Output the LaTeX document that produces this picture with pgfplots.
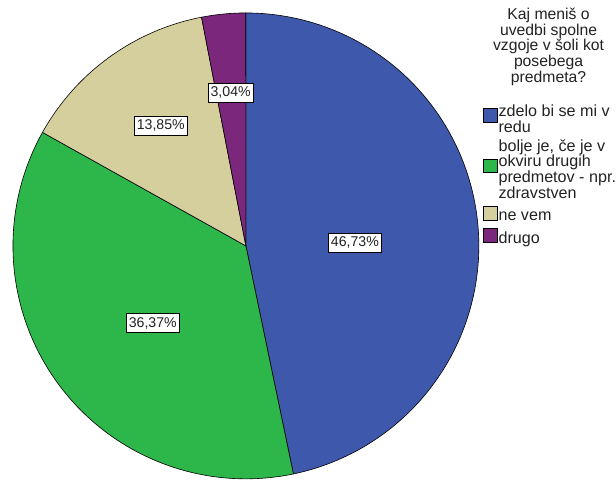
\documentclass[border=0pt]{standalone}
\usepackage{pgfplots}
\pgfplotsset{compat=1.18}
\usepackage{pgfplotstable}
\usepackage{fontspec}
\setmainfont{Liberation Sans}
\definecolor{cblue}{HTML}{3E58AC}
\definecolor{cgreen}{HTML}{2DB64A}
\definecolor{ctan}{HTML}{D5CE9D}
\definecolor{cpurple}{HTML}{7B277C}
\definecolor{ctext}{HTML}{222222}

% shares of the pie (percent), clockwise from 12 o'clock
\pgfplotstableread{
cat value
1 46.73
2 36.37
3 13.85
4 3.04
}\piedata
\pgfplotstablegetelem{0}{value}\of\piedata \let\vA\pgfplotsretval
\pgfplotstablegetelem{1}{value}\of\piedata \let\vB\pgfplotsretval
\pgfplotstablegetelem{2}{value}\of\piedata \let\vC\pgfplotsretval
\pgfplotstablegetelem{3}{value}\of\piedata \let\vD\pgfplotsretval
\pgfmathsetmacro\aO{90}
\pgfmathsetmacro\aA{\aO-3.6*\vA}
\pgfmathsetmacro\aB{\aA-3.6*\vB}
\pgfmathsetmacro\aC{\aB-3.6*\vC}
\pgfmathsetmacro\aD{\aC-3.6*\vD}
\def\cx{247}
\def\cy{235}
\def\R{234}

\begin{document}
\begin{tikzpicture}
\begin{axis}[
  scale only axis, width=616bp, height=482bp,
  xmin=0, xmax=616, ymin=0, ymax=482,
  hide axis, clip=false,
  legend cell align=left,
  legend image code/.code={\draw[#1,draw=black,line width=0.6bp] (0bp,-3bp) rectangle (14bp,11bp);},
  legend style={at={(axis cs:485,377)}, anchor=north west, draw=none, fill=none,
    inner sep=0pt, row sep=5.5bp,
    font=\fontsize{16.2bp}{16bp}\selectfont,
    text=ctext,
    nodes={inner sep=0pt, align=left, execute at begin node={\setlength{\baselineskip}{16bp}}},
    /tikz/every odd column/.style={column sep=1bp}},
]
\path (rel axis cs:0,0) rectangle (rel axis cs:1,1);
\addplot[fill=cblue, draw=black, line width=0.6bp, domain=\aA:\aO, samples=120, variable=\t]
  ({\cx+\R*cos(t)},{\cy+\R*sin(t)}) -- (axis cs:\cx,\cy) -- cycle;
\addlegendentry{zdelo bi se mi v\\redu}
\addplot[fill=cgreen, draw=black, line width=0.6bp, domain=\aB:\aA, samples=100, variable=\t]
  ({\cx+\R*cos(t)},{\cy+\R*sin(t)}) -- (axis cs:\cx,\cy) -- cycle;
\addlegendentry{bolje je, če je v\\okviru drugih\\predmetov - npr.\\zdravstven}
\addplot[fill=ctan, draw=black, line width=0.6bp, domain=\aC:\aB, samples=50, variable=\t]
  ({\cx+\R*cos(t)},{\cy+\R*sin(t)}) -- (axis cs:\cx,\cy) -- cycle;
\addlegendentry{ne vem}
\addplot[fill=cpurple, draw=black, line width=0.6bp, domain=\aD:\aC, samples=20, variable=\t]
  ({\cx+\R*cos(t)},{\cy+\R*sin(t)}) -- (axis cs:\cx,\cy) -- cycle;
\addlegendentry{drugo}

\tikzset{plab/.style={fill=white, draw=black, line width=0.6bp, inner xsep=2.5bp, inner ysep=3.5bp,
  text=ctext, font=\fontsize{14.2bp}{15bp}\selectfont}}
\node[plab] at (axis cs:356.5,238) {46,73\%};
\node[plab] at (axis cs:153.5,157.5) {36,37\%};
\node[plab] at (axis cs:161.5,355.5) {13,85\%};
\node[plab] at (axis cs:231.7,388.7) {3,04\%};

\node[anchor=north, align=center, inner sep=0pt, text=ctext,
  font=\fontsize{15.8bp}{16bp}\selectfont,
  execute at begin node={\setlength{\baselineskip}{16bp}}] at (axis cs:551,474.5)
  {Kaj meniš o\\uvedbi spolne\\vzgoje v šoli kot\\posebega\\predmeta?};
\end{axis}
\end{tikzpicture}
\end{document}
